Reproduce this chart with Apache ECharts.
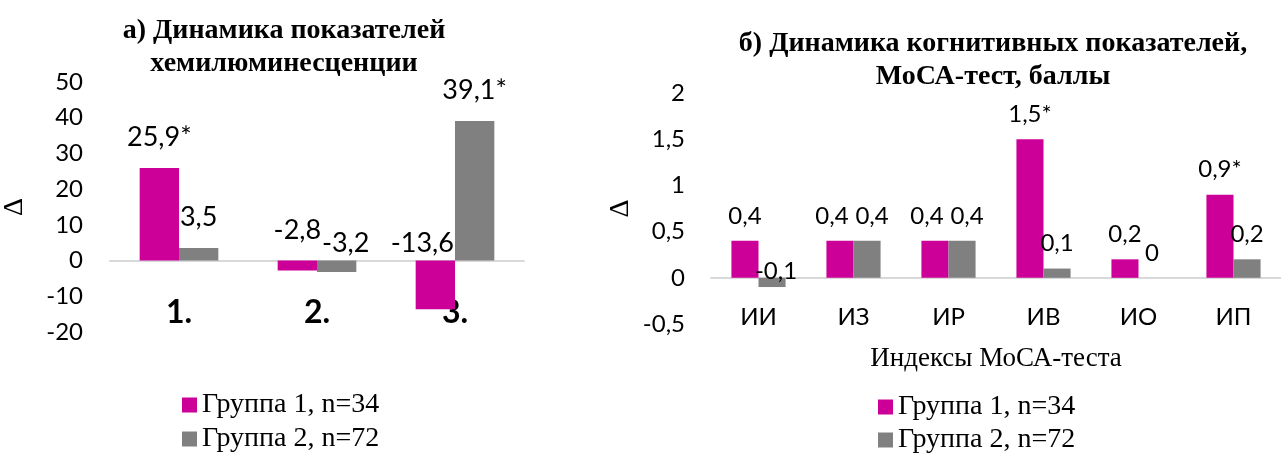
<!DOCTYPE html>
<html>
<head>
<meta charset="utf-8">
<script src="https://cdn.jsdelivr.net/npm/echarts@6/dist/echarts.min.js"></script>
<style>
  html, body { margin: 0; padding: 0; background: #ffffff; }
  #chart { width: 1281px; height: 454px; }
</style>
</head>
<body>
<div id="chart"></div>
<script>
// Chemiluminescence indicators (panel а)
const chemCategories = ['1.', '2.', '3.'];
const chemGroup1 = [25.9, -2.8, -13.6];
const chemGroup2 = [3.5, -3.2, 39.1];
const chemSig1 = [true, false, false];
const chemSig2 = [false, false, true];
const chemTicks = [-20, -10, 0, 10, 20, 30, 40, 50];

// Cognitive indicators, MoCA indices (panel б)
const mocaCategories = ['ИИ', 'ИЗ', 'ИР', 'ИВ', 'ИО', 'ИП'];
const mocaGroup1 = [0.4, 0.4, 0.4, 1.5, 0.2, 0.9];
const mocaGroup2 = [-0.1, 0.4, 0.4, 0.1, 0, 0.2];
const mocaSig1 = [false, false, false, true, false, true];
const mocaSig2 = [false, false, false, false, false, false];
const mocaTicks = [-0.5, 0, 0.5, 1, 1.5, 2];

const groupNames = ['Группа 1, n=34', 'Группа 2, n=72'];

// label nudges so neighbouring value labels do not collide
const chemShift1 = [[0, 0], [0, 0], [-13, 13]];
const chemShift2 = [[0, 0], [9, 13], [0, 0]];
const mocaShift1 = [[0, 0], [-8, 0], [-8, 0], [0, 0], [0, 0], [0, 0]];
const mocaShift2 = [[4, 18], [5, 0], [5, 0], [0, 0], [0, 0], [0, 0]];

const MAGENTA = '#CC0099';
const GREY = '#808080';
const NUM_FONT = 'Lato, "Open Sans", sans-serif';
const SERIF = '"Liberation Serif", "DejaVu Serif", serif';

const fmt = v => String(v).replace('.', ',');

function barData(values, sig, shifts, fontSize, distance) {
  return values.map((v, i) => ({
    value: v,
    label: {
      show: true,
      position: 'top',
      distance: distance,
      offset: shifts[i],
      formatter: fmt(v) + (sig[i] ? '*' : ''),
      fontFamily: NUM_FONT,
      fontSize: fontSize,
      color: '#000'
    }
  }));
}

const chart = echarts.init(document.getElementById('chart'), null, { renderer: 'canvas' });

const commonX = {
  type: 'category',
  axisLine: { onZero: true, lineStyle: { color: '#D9D9D9', width: 2 } },
  axisTick: { show: false },
  splitLine: { show: false }
};

const commonY = {
  type: 'value',
  axisLine: { show: false },
  axisTick: { show: false },
  splitLine: { show: false },
  nameLocation: 'middle',
  nameRotate: 90,
  nameTextStyle: { fontFamily: SERIF, fontSize: 28, color: '#000' }
};

// one legend entry per component so each row can be placed exactly
function legendItem(name, left, top) {
  return {
    left: left,
    top: top,
    icon: 'rect',
    itemWidth: 15,
    itemHeight: 15,
    selectedMode: false,
    data: [name],
    textStyle: { fontFamily: SERIF, fontSize: 28, lineHeight: 28, color: '#000' }
  };
}

chart.setOption({
  animation: false,
  backgroundColor: '#ffffff',
  title: [
    {
      text: 'а) Динамика показателей\nхемилюминесценции',
      left: 279, top: 9, textAlign: 'center',
      textStyle: { fontFamily: SERIF, fontWeight: 'bold', fontSize: 28, lineHeight: 33, color: '#000' }
    },
    {
      text: 'б) Динамика когнитивных показателей,\nМоСА-тест, баллы',
      left: 988, top: 22, textAlign: 'center',
      textStyle: { fontFamily: SERIF, fontWeight: 'bold', fontSize: 28, lineHeight: 33, color: '#000' }
    }
  ],
  legend: [
    legendItem(groupNames[0], 177, 386),
    legendItem(groupNames[1], 177, 420),
    legendItem(groupNames[0], 873, 388),
    legendItem(groupNames[1], 873, 421)
  ],
  grid: [
    { left: 110, top: 82, width: 414, height: 250 },
    { left: 711, top: 93, width: 576, height: 231 }
  ],
  xAxis: [
    Object.assign({}, commonX, {
      gridIndex: 0,
      data: chemCategories,
      axisLabel: { margin: -35, fontFamily: NUM_FONT, fontWeight: 'bold', fontSize: 32, color: '#000' }
    }),
    Object.assign({}, commonX, {
      gridIndex: 1,
      data: mocaCategories,
      name: 'Индексы МоСА-теста',
      nameLocation: 'middle',
      nameGap: 21,
      nameTextStyle: { fontFamily: SERIF, fontSize: 27, color: '#000' },
      axisLabel: { margin: -19, fontFamily: NUM_FONT, fontSize: 24, color: '#000' }
    })
  ],
  yAxis: [
    Object.assign({}, commonY, {
      gridIndex: 0,
      min: chemTicks[0],
      max: chemTicks[chemTicks.length - 1],
      interval: 10,
      name: 'Δ',
      nameGap: 81,
      axisLabel: { margin: 27, fontFamily: NUM_FONT, fontSize: 24, color: '#000', formatter: fmt }
    }),
    Object.assign({}, commonY, {
      gridIndex: 1,
      min: mocaTicks[0],
      max: mocaTicks[mocaTicks.length - 1],
      interval: 0.5,
      name: 'Δ',
      nameGap: 76,
      axisLabel: { margin: 26, fontFamily: NUM_FONT, fontSize: 24, color: '#000', formatter: fmt }
    })
  ],
  series: [
    {
      name: groupNames[0], type: 'bar', xAxisIndex: 0, yAxisIndex: 0,
      barGap: '0%', barCategoryGap: '43%',
      itemStyle: { color: MAGENTA },
      data: barData(chemGroup1, chemSig1, chemShift1, 27, 17)
    },
    {
      name: groupNames[1], type: 'bar', xAxisIndex: 0, yAxisIndex: 0,
      barGap: '0%', barCategoryGap: '43%',
      itemStyle: { color: GREY },
      data: barData(chemGroup2, chemSig2, chemShift2, 27, 17)
    },
    {
      name: groupNames[0], type: 'bar', xAxisIndex: 1, yAxisIndex: 1,
      barGap: '0%', barCategoryGap: '43%',
      itemStyle: { color: MAGENTA },
      data: barData(mocaGroup1, mocaSig1, mocaShift1, 24, 13)
    },
    {
      name: groupNames[1], type: 'bar', xAxisIndex: 1, yAxisIndex: 1,
      barGap: '0%', barCategoryGap: '43%',
      itemStyle: { color: GREY },
      data: barData(mocaGroup2, mocaSig2, mocaShift2, 24, 13)
    }
  ]
});
</script>
</body>
</html>
